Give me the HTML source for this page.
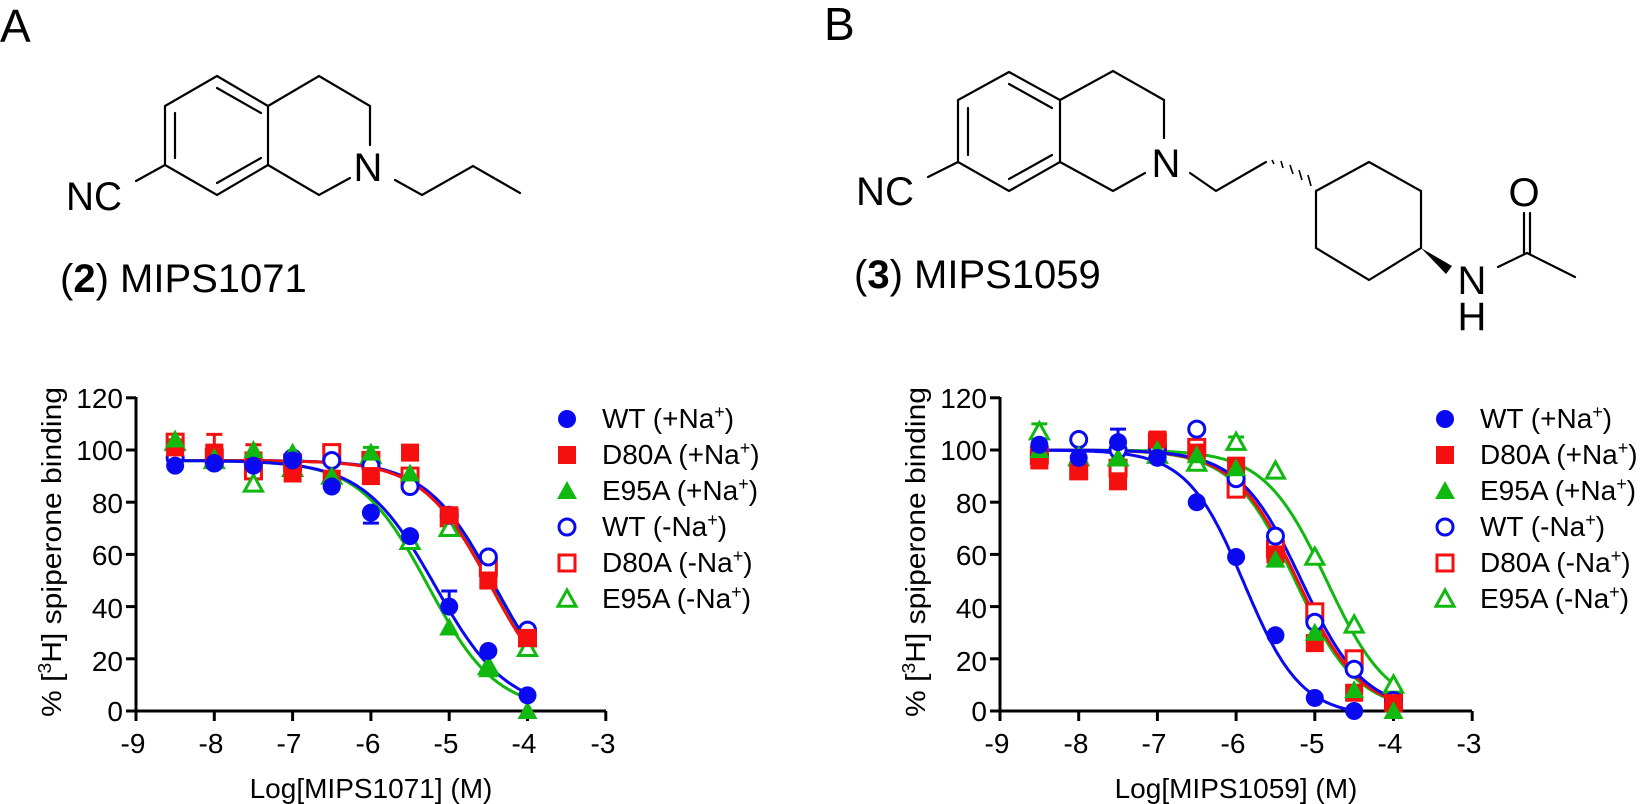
<!DOCTYPE html>
<html><head><meta charset="utf-8"><style>
html,body{margin:0;padding:0;background:#fff;}
svg{display:block;font-family:"Liberation Sans",Arial,sans-serif;}
</style></head><body>
<svg id="s" width="1648" height="804" viewBox="0 0 1648 804" xmlns="http://www.w3.org/2000/svg">
<rect width="1648" height="804" fill="#fff"/>
<!-- Panel letters -->
<text x="0" y="42" font-size="46">A</text>
<text x="824" y="40" font-size="46">B</text>

<!-- Structure A -->
<g stroke="#000" stroke-width="2.2" fill="none" stroke-linecap="round">
<polyline points="217,76 268,106 268,165 217,195 165,165 165,106 217,76"/>
<line x1="175" y1="113" x2="175" y2="158"/>
<line x1="217" y1="88" x2="261" y2="113"/>
<line x1="217" y1="183" x2="261" y2="158"/>
<polyline points="268,106 319,76 370,106 370,145"/>
<polyline points="268,165 319,195 350,178"/>
<polyline points="395,180 422,195 473,166 520,193"/>
<line x1="136" y1="181" x2="165" y2="165"/>
</g>
<text x="368" y="181" font-size="40" text-anchor="middle">N</text>
<text x="66" y="210" font-size="40" textLength="56" lengthAdjust="spacingAndGlyphs">NC</text>
<text x="60" y="292" font-size="40">(<tspan font-weight="bold">2</tspan>) MIPS1071</text>

<!-- Structure B -->
<g stroke="#000" stroke-width="2.2" fill="none" stroke-linecap="round">
<polyline points="1009,72 1060,100 1060,162 1009,191 958,162 958,100 1009,72"/>
<line x1="968" y1="108" x2="968" y2="155"/>
<line x1="1009" y1="84" x2="1052" y2="108"/>
<line x1="1009" y1="179" x2="1052" y2="155"/>
<polyline points="1060,100 1113,71 1164,100 1164,138"/>
<polyline points="1060,162 1113,191 1145,173"/>
<polyline points="1190,173 1216,191 1266,162"/>
<line x1="928" y1="177" x2="958" y2="162"/>
<polyline points="1316,191 1369,162 1421,191 1421,248 1369,280 1316,248 1316,191"/>
<polyline points="1498,267 1527,253 1575,277"/>
<line x1="1524" y1="253" x2="1524" y2="213"/>
<line x1="1530" y1="253" x2="1530" y2="213"/>
</g>
<g stroke="#000" stroke-width="1.6">
<line x1="1272" y1="160" x2="1274" y2="164"/>
<line x1="1281" y1="161" x2="1283" y2="168"/>
<line x1="1290" y1="165" x2="1293" y2="174"/>
<line x1="1299" y1="170" x2="1302" y2="180"/>
<line x1="1308" y1="175" x2="1311" y2="186"/>
</g>
<polygon points="1421,248 1452,266 1446,274" fill="#000"/>
<text x="1166" y="177" font-size="40" text-anchor="middle">N</text>
<text x="1472" y="294" font-size="40" text-anchor="middle">N</text>
<text x="1472" y="330" font-size="40" text-anchor="middle">H</text>
<text x="1524" y="206" font-size="40" text-anchor="middle">O</text>
<text x="856" y="205" font-size="40" textLength="58" lengthAdjust="spacingAndGlyphs">NC</text>
<text x="854" y="288" font-size="40">(<tspan font-weight="bold">3</tspan>) MIPS1059</text>

<!-- Chart axes A -->
<g stroke="#000" stroke-width="3" fill="none">
<polyline points="136,397 136,711 606,711"/>
</g>
<g id="ticksA" stroke="#000" stroke-width="3"></g>
<g font-size="28" text-anchor="end">
<text x="123" y="408">120</text><text x="123" y="460">100</text><text x="123" y="513">80</text>
<text x="123" y="565">60</text><text x="123" y="618">40</text><text x="123" y="671">20</text><text x="123" y="721">0</text>
</g>
<g font-size="28" text-anchor="middle">
<text x="133" y="753">-9</text><text x="211" y="753">-8</text><text x="289" y="753">-7</text>
<text x="368" y="753">-6</text><text x="446" y="753">-5</text><text x="524" y="753">-4</text><text x="603" y="753">-3</text>
</g>
<text x="371" y="798" font-size="28" text-anchor="middle">Log[MIPS1071] (M)</text>
<text transform="translate(61,552) rotate(-90)" font-size="28" text-anchor="middle" textLength="330" lengthAdjust="spacingAndGlyphs">% [<tspan font-size="18" dy="-10">3</tspan><tspan dy="10">H] spiperone binding</tspan></text>

<!-- Chart axes B -->
<g stroke="#000" stroke-width="3" fill="none">
<polyline points="1000,397 1000,711 1472,711"/>
</g>
<g font-size="28" text-anchor="end">
<text x="987" y="408">120</text><text x="987" y="460">100</text><text x="987" y="513">80</text>
<text x="987" y="565">60</text><text x="987" y="618">40</text><text x="987" y="671">20</text><text x="987" y="721">0</text>
</g>
<g font-size="28" text-anchor="middle">
<text x="997" y="753">-9</text><text x="1076" y="753">-8</text><text x="1154" y="753">-7</text>
<text x="1233" y="753">-6</text><text x="1312" y="753">-5</text><text x="1390" y="753">-4</text><text x="1469" y="753">-3</text>
</g>
<text x="1236" y="798" font-size="28" text-anchor="middle">Log[MIPS1059] (M)</text>
<text transform="translate(925,552) rotate(-90)" font-size="28" text-anchor="middle" textLength="330" lengthAdjust="spacingAndGlyphs">% [<tspan font-size="18" dy="-10">3</tspan><tspan dy="10">H] spiperone binding</tspan></text>

<g id="plot"></g>

<!-- Legends -->
<g font-size="28">
<text x="602" y="428">WT (+Na<tspan font-size="18" dy="-10">+</tspan><tspan dy="10">)</tspan></text>
<text x="602" y="464">D80A (+Na<tspan font-size="18" dy="-10">+</tspan><tspan dy="10">)</tspan></text>
<text x="602" y="500">E95A (+Na<tspan font-size="18" dy="-10">+</tspan><tspan dy="10">)</tspan></text>
<text x="602" y="536">WT (-Na<tspan font-size="18" dy="-10">+</tspan><tspan dy="10">)</tspan></text>
<text x="602" y="572">D80A (-Na<tspan font-size="18" dy="-10">+</tspan><tspan dy="10">)</tspan></text>
<text x="602" y="608">E95A (-Na<tspan font-size="18" dy="-10">+</tspan><tspan dy="10">)</tspan></text>
<text x="1480" y="428">WT (+Na<tspan font-size="18" dy="-10">+</tspan><tspan dy="10">)</tspan></text>
<text x="1480" y="464">D80A (+Na<tspan font-size="18" dy="-10">+</tspan><tspan dy="10">)</tspan></text>
<text x="1480" y="500">E95A (+Na<tspan font-size="18" dy="-10">+</tspan><tspan dy="10">)</tspan></text>
<text x="1480" y="536">WT (-Na<tspan font-size="18" dy="-10">+</tspan><tspan dy="10">)</tspan></text>
<text x="1480" y="572">D80A (-Na<tspan font-size="18" dy="-10">+</tspan><tspan dy="10">)</tspan></text>
<text x="1480" y="608">E95A (-Na<tspan font-size="18" dy="-10">+</tspan><tspan dy="10">)</tspan></text>
</g>
</svg>
<script>
(function(){
var NS="http://www.w3.org/2000/svg",s=document.getElementById("plot");
function el(t,a){var e=document.createElementNS(NS,t);for(var k in a)e.setAttribute(k,a[k]);s.appendChild(e);return e;}
var B="#0a0af0",R="#f50f0f",G="#10b810";
function marker(x,y,type,c){
 var open=type[0]=="o",sh=type[1];
 var a=open?{fill:"#fff",stroke:c,"stroke-width":3}:{fill:c};
 if(sh=="c"){a.cx=x;a.cy=y;a.r=open?8:9;el("circle",a);}
 else if(sh=="s"){var h=open?8:9;a.x=x-h;a.y=y-h;a.width=2*h;a.height=2*h;el("rect",a);}
 else {var h=open?9:10;a.points=(x)+","+(y-h)+" "+(x+h)+","+(y+h*0.8)+" "+(x-h)+","+(y+h*0.8);el("polygon",a);}
}
function chart(x0,ux,data,curves){
 var X=function(v){return x0+(v+9)*ux;},Y=function(v){return 711-2.61*v;};
 // ticks
 for(var i=0;i<=6;i++){el("line",{x1:x0-10,x2:x0,y1:Y(i*20),y2:Y(i*20),stroke:"#000","stroke-width":3});}
 for(var i=-9;i<=-3;i++){el("line",{x1:X(i),x2:X(i),y1:711,y2:721,stroke:"#000","stroke-width":3});}
 curves.forEach(function(c){
  var d="";for(var v=-8.5;v<=c.end+1e-9;v+=0.02){var y=c.top/(1+Math.pow(10,(v-c.ic)*c.h))+c.bot;d+=(d?"L":"M")+X(v).toFixed(1)+","+Y(y).toFixed(1);}
  el("path",{d:d,fill:"none",stroke:c.c,"stroke-width":3});
 });
 data.forEach(function(s){
  s.v.forEach(function(y,i){
   if(y==null)return;var x=X(-8.5+i*0.5);
   if(s.e&&s.e[i]){el("line",{x1:x,x2:x,y1:Y(y),y2:Y(s.e[i]),stroke:s.c,"stroke-width":3});el("line",{x1:x-8,x2:x+8,y1:Y(s.e[i]),y2:Y(s.e[i]),stroke:s.c,"stroke-width":3});}
   marker(x,Y(y),s.t,s.c);
  });
 });
}
chart(136,78.3,[
 {t:"os",c:R,v:[103,97,92,95,99,96,90,74,55,28]},
 {t:"ot",c:G,v:[103,96,87,93,90,98,65,70,17,24]},
 {t:"oc",c:B,v:[97,95,95,97,96,94,86,75,59,31]},
 {t:"fs",c:R,v:[101,99,96,91,89,90,99,75,50,28],e:[0,106,102,0,0,0,0,0,0,0]},
 {t:"ft",c:G,v:[104,97,100,99,90,99,91,32,16,0],e:[0,0,0,0,0,101,0,0,0,0]},
 {t:"fc",c:B,v:[94,95,94,96,86,76,67,40,23,6],e:[0,0,0,0,0,72,0,46,0,0]}
],[
 {c:G,top:96,bot:0,ic:-4.45,h:1,end:-4},
 {c:B,top:96,bot:0,ic:-4.42,h:1,end:-4},
 {c:R,top:96,bot:0,ic:-4.47,h:1,end:-4},
 {c:G,top:96,bot:0,ic:-5.27,h:1,end:-4},
 {c:B,top:96,bot:0,ic:-5.18,h:0.95,end:-4}
]);
chart(1000,78.7,[
 {t:"os",c:R,v:[98,92,93,103,101,85,62,38,20,4]},
 {t:"ot",c:G,v:[107,97,97,98,95,103,92,59,33,10],e:[110,0,0,0,0,105,0,0,0,0]},
 {t:"oc",c:B,v:[98,104,100,101,108,89,67,34,16,4]},
 {t:"fs",c:R,v:[96,92,88,104,99,94,60,26,7,3]},
 {t:"ft",c:G,v:[100,98,97,100,98,93,58,30,8,0]},
 {t:"fc",c:B,v:[102,97,103,97,80,59,29,5,0,null],e:[0,0,108,0,0,0,0,0,0,0]}
],[
 {c:G,top:100,bot:0,ic:-4.85,h:1.1,end:-4},
 {c:G,top:100,bot:0,ic:-5.25,h:1.1,end:-4},
 {c:R,top:100,bot:0,ic:-5.22,h:1.1,end:-4},
 {c:B,top:100,bot:0,ic:-5.17,h:1.1,end:-4},
 {c:B,top:102,bot:-2,ic:-5.9,h:1.2,end:-4.55}
]);
// legend markers
var ys=[419,455,491,527,563,599],ts=["fc","fs","ft","oc","os","ot"],cs=[B,R,G,B,R,G];
[567,1445].forEach(function(x){for(var i=0;i<6;i++)marker(x,ys[i],ts[i],cs[i]);});
})();
</script>
</body></html>
